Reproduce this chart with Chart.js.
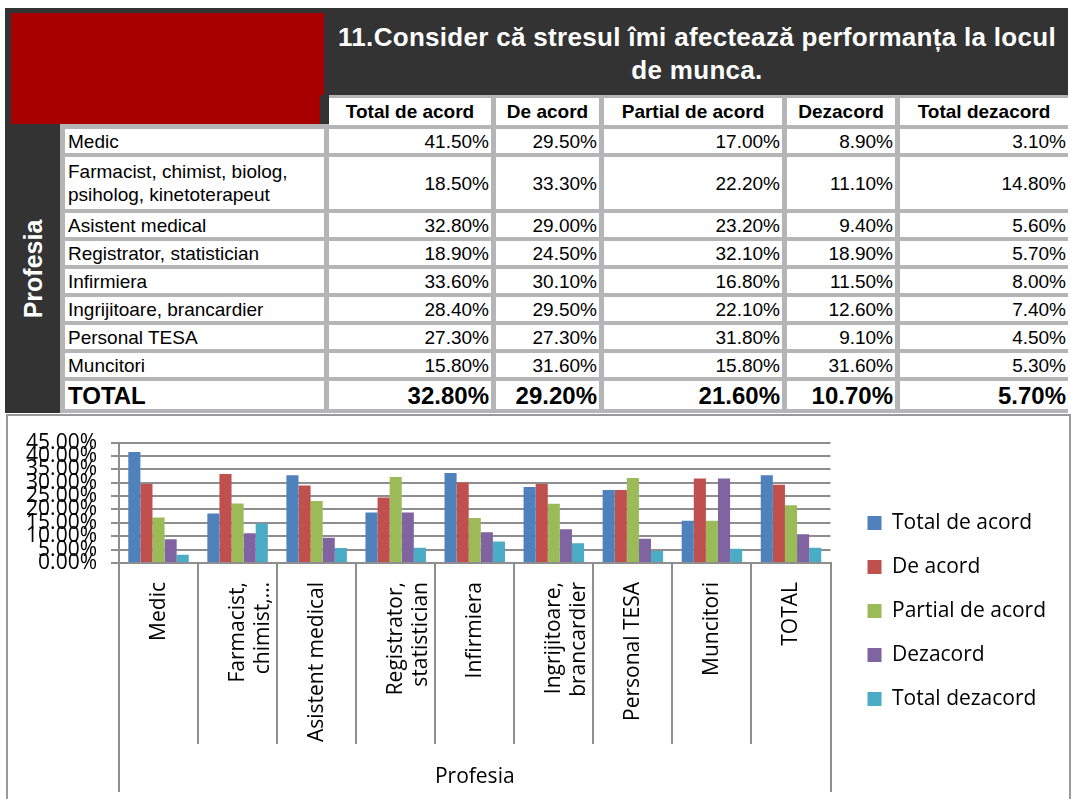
<!DOCTYPE html>
<html>
<head>
<meta charset="utf-8">
<script src="https://cdn.jsdelivr.net/npm/chart.js@4.4.0/dist/chart.umd.min.js"></script>
<style>
  body { margin: 0; width: 1071px; height: 799px; background: #fff; position: relative; overflow: hidden;
         font-family: "Liberation Sans", Arial, sans-serif; }
  #frame { position: absolute; left: 5px; top: 8px; width: 1063px; height: 405px; background: #b5b5b8; }
  #darkTop { position: absolute; left: 5px; top: 8px; width: 1063px; height: 87px; background: #333; }
  #darkLeft { position: absolute; left: 5px; top: 8px; width: 55px; height: 405px; background: #333; }
  #darkJoin { position: absolute; left: 320px; top: 95px; width: 9px; height: 29px; background: #333; }
  #red { position: absolute; left: 11px; top: 13px; width: 313px; height: 111px; background: #a80000; }
  #title { position: absolute; left: 326px; top: 21px; width: 742px; text-align: center; color: #fff;
           font-weight: bold; font-size: 26px; letter-spacing: 0.3px; line-height: 33px; }
  #prof { position: absolute; left: 33px; top: 269px; transform: translate(-50%, -50%) rotate(-90deg);
          color: #fff; font-weight: bold; font-size: 25px; white-space: nowrap; }
  #grid { position: absolute; left: 65px; top: 98px; display: grid;
          grid-template-columns: 259px 162px 103px 178px 108px 168px; column-gap: 5px;
          grid-template-rows: 27px 24px 52px 24px 24px 24px 24px 24px 24px 28px; row-gap: 4px; }
  .c { background: #fff; display: flex; align-items: center; font-size: 19px; color: #000; line-height: 23px; }
  .blank { background: transparent; }
  .head { justify-content: center; font-weight: bold; }
  .lab { padding-left: 3px; }
  .num { justify-content: flex-end; padding-right: 2px; }
  .tot { font-weight: bold; font-size: 24px; }
  #chartbox { position: absolute; left: 6px; top: 414px; width: 1061px; height: 392px; border: 2px solid #999; background: #fff; }
  #wrap { position: absolute; left: 8px; top: 416px; width: 1059px; height: 383px; }
</style>
</head>
<body>
<div id="frame"></div>
<div id="grid"></div>
<div id="darkTop"></div>
<div id="darkLeft"></div>
<div id="red"></div>
<div id="darkJoin"></div>
<div id="title">11.Consider că stresul îmi afectează performanța la locul<br>de munca.</div>
<div id="prof">Profesia</div>
<div id="chartbox"></div>
<div id="wrap"><canvas id="chart" width="1059" height="383"></canvas></div>

<script>
const professions = ['Medic', 'Farmacist, chimist, biolog, psiholog, kinetoterapeut', 'Asistent medical',
  'Registrator, statistician', 'Infirmiera', 'Ingrijitoare, brancardier', 'Personal TESA', 'Muncitori', 'TOTAL'];
const axisLabels = ['Medic', ['Farmacist,', 'chimist,…'], 'Asistent medical', ['Registrator,', 'statistician'],
  'Infirmiera', ['Ingrijitoare,', 'brancardier'], 'Personal TESA', 'Muncitori', 'TOTAL'];
const answers = ['Total de acord', 'De acord', 'Partial de acord', 'Dezacord', 'Total dezacord'];

const totalDeAcord = [41.5, 18.5, 32.8, 18.9, 33.6, 28.4, 27.3, 15.8, 32.8];
const deAcord = [29.5, 33.3, 29.0, 24.5, 30.1, 29.5, 27.3, 31.6, 29.2];
const partialDeAcord = [17.0, 22.2, 23.2, 32.1, 16.8, 22.1, 31.8, 15.8, 21.6];
const dezacord = [8.9, 11.1, 9.4, 18.9, 11.5, 12.6, 9.1, 31.6, 10.7];
const totalDezacord = [3.1, 14.8, 5.6, 5.7, 8.0, 7.4, 4.5, 5.3, 5.7];

const yTicks = [0, 5, 10, 15, 20, 25, 30, 35, 40, 45];

const series = [totalDeAcord, deAcord, partialDeAcord, dezacord, totalDezacord];
const colors = ['#4f81bd', '#c0504d', '#9bbb59', '#8064a2', '#4bacc6'];

// table above the chart
const grid = document.getElementById('grid');
function cell(cls, text) {
  const d = document.createElement('div');
  d.className = 'c ' + cls;
  d.textContent = text;
  grid.appendChild(d);
}
cell('blank', '');
answers.forEach(a => cell('head', a));
professions.forEach((p, i) => {
  const extra = p === 'TOTAL' ? ' tot' : '';
  cell('lab' + extra, p);
  series.forEach(s => cell('num' + extra, s[i].toFixed(2) + '%'));
});

// chart
Chart.defaults.font.family = '"Open Sans", sans-serif';
const lineColor = '#8e8e8e';

// move the legend a bit away from the plot, like the original
const legendNudge = {
  id: 'legendNudge',
  afterLayout(chart) {
    chart.legend.left += 14;
    chart.legend.right += 14;
    chart.legend.top -= 6;
    chart.legend.bottom -= 6;
  }
};

new Chart(document.getElementById('chart').getContext('2d'), {
  type: 'bar',
  data: {
    labels: axisLabels,
    datasets: answers.map((a, i) => ({
      label: a,
      data: series[i],
      backgroundColor: colors[i],
      borderWidth: 0,
      categoryPercentage: 0.765,
      barPercentage: 1
    }))
  },
  plugins: [legendNudge],
  options: {
    responsive: false,
    animation: false,
    layout: { padding: { top: 26, right: 25, bottom: 7, left: 0 } },
    plugins: {
      tooltip: { enabled: false },
      legend: {
        position: 'right',
        labels: {
          boxWidth: 14,
          boxHeight: 14,
          padding: 23,
          color: '#000',
          font: { size: 21 }
        }
      }
    },
    scales: {
      x: {
        offset: true,
        grid: { offset: true, drawOnChartArea: false, tickLength: 181, color: lineColor, lineWidth: 2 },
        border: { display: true, color: lineColor, width: 2 },
        ticks: { autoSkip: false, minRotation: 90, maxRotation: 90, padding: -162, color: '#000', font: { size: 21 } },
        afterFit: s => { s.height = 181; }
      },
      x2: {
        type: 'category',
        labels: ['Profesia'],
        position: 'bottom',
        offset: true,
        grid: { offset: true, drawOnChartArea: false, tickLength: 48, color: lineColor, lineWidth: 2 },
        border: { display: false },
        ticks: { padding: -28, color: '#000', font: { size: 21 } },
        afterFit: s => { s.height = 48; }
      },
      y: {
        min: yTicks[0],
        max: yTicks[yTicks.length - 1],
        afterBuildTicks: s => { s.ticks = yTicks.map(v => ({ value: v })); },
        ticks: { autoSkip: false, padding: 14, color: '#000', font: { size: 21 },
                 callback: v => v.toFixed(2) + '%' },
        grid: { tickLength: 8, color: lineColor, lineWidth: 2 },
        border: { color: lineColor, width: 2 },
        afterFit: s => { s.width = 111; }
      }
    }
  }
});
</script>
</body>
</html>
